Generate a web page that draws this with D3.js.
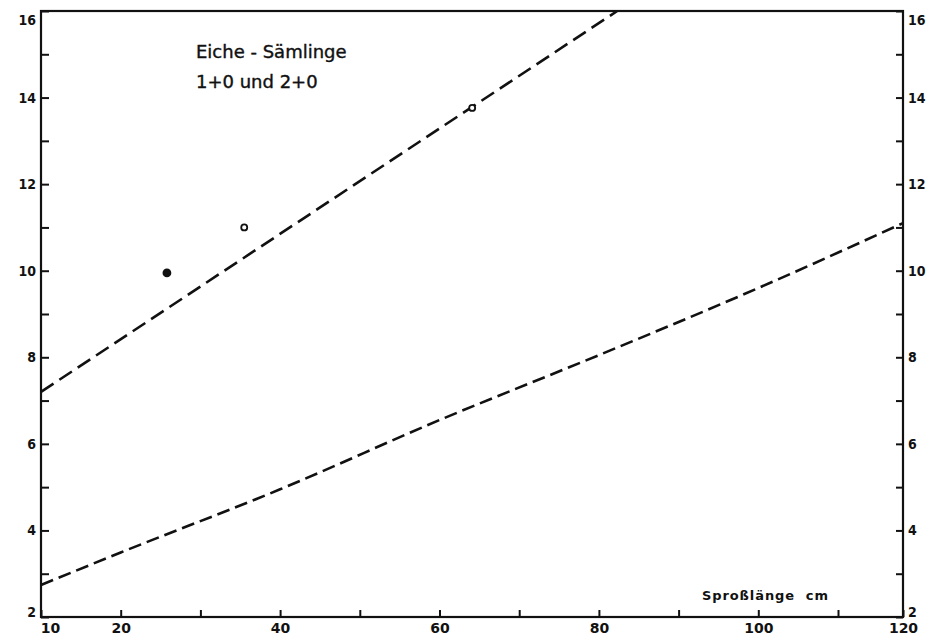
<!DOCTYPE html>
<html>
<head>
<meta charset="utf-8">
<script src="https://cdn.jsdelivr.net/npm/d3@7/dist/d3.min.js"></script>
<style>
  body { margin: 0; background: #fff; }
  svg { display: block; }
  .tick text { font-family: "DejaVu Sans Condensed", "DejaVu Sans", sans-serif; font-weight: bold; font-size: 14px; fill: #111; }
  .xaxis .tick text { font-family: "DejaVu Sans", sans-serif; font-size: 14px; }
</style>
</head>
<body>
<svg id="chart" width="927" height="635"></svg>
<script>
// Sprosslänge (cm) on x, values on y
const xTickValues = [10, 20, 30, 40, 50, 60, 70, 80, 90, 100, 110, 120];
const xTickLabels = ["10", "20", "", "40", "", "60", "", "80", "", "100", "", "120"];
const yTickValues = [2, 3, 4, 5, 6, 7, 8, 9, 10, 11, 12, 13, 14, 15, 16];
const yTickLabels = ["2", "", "4", "", "6", "", "8", "", "10", "", "12", "", "14", "", "16"];

// measured seedlings
const pointX = [25.8, 35.5, 64.1];
const pointY = [9.95, 11.0, 13.76];
const pointFilled = [true, false, false];

// upper dashed curve
const upperX = [10, 82.3];
const upperY = [7.2, 16];

// lower dashed curve
const lowerX = [10, 20, 40, 60, 80, 100, 120];
const lowerY = [2.74, 3.49, 4.95, 6.55, 8.05, 9.6, 11.1];

const titleLines = ["Eiche - Sämlinge", "1+0 und 2+0"];
const xAxisTitle = "Sproßlänge  cm";

const svg = d3.select("#chart");
const frameLeft = 41, frameRight = 903, frameTop = 11, frameBottom = 617;

// hand-drawn scale: last interval is shorter on the sheet
const x = d3.scaleLinear().domain([10, 110, 120]).range([frameLeft, 838, frameRight]);
const y = d3.scaleLinear().domain([2, 16]).range([frameBottom, frameTop]);

// frame
svg.append("rect")
  .attr("x", frameLeft).attr("y", frameTop)
  .attr("width", frameRight - frameLeft).attr("height", frameBottom - frameTop)
  .attr("fill", "none").attr("stroke", "#111").attr("stroke-width", 2.2);

// left axis (ticks point inward)
const gL = svg.append("g").attr("transform", `translate(${frameLeft},0)`)
  .call(d3.axisLeft(y).tickValues(yTickValues)
    .tickFormat((d, i) => yTickLabels[i]).tickSizeInner(-8).tickSizeOuter(0).tickPadding(5));
// right axis
const gR = svg.append("g").attr("transform", `translate(${frameRight},0)`)
  .call(d3.axisRight(y).tickValues(yTickValues)
    .tickFormat((d, i) => yTickLabels[i]).tickSizeInner(-7).tickSizeOuter(0).tickPadding(5));
// bottom axis
const gB = svg.append("g").attr("class", "xaxis").attr("transform", `translate(0,${frameBottom})`)
  .call(d3.axisBottom(x).tickValues(xTickValues)
    .tickFormat((d, i) => xTickLabels[i]).tickSizeInner(-7).tickSizeOuter(0).tickPadding(6));

[gL, gR, gB].forEach(g => {
  g.select(".domain").remove();
  g.selectAll(".tick line").attr("stroke", "#111").attr("stroke-width", 2);
});
// corner labels nudged away from the frame corners
[gL, gR].forEach(g => {
  g.selectAll(".tick text").filter(d => d === 16).attr("dy", "0.95em");
  g.selectAll(".tick text").filter(d => d === 2).attr("dy", "-0.05em");
});
gB.selectAll(".tick text").filter(d => d === 10).attr("dx", "0.65em");

// dashed curves
const line = d3.line().x(d => x(d[0])).y(d => y(d[1])).curve(d3.curveMonotoneX);
svg.append("path")
  .datum(upperX.map((v, i) => [v, upperY[i]]))
  .attr("d", line).attr("fill", "none").attr("stroke", "#111")
  .attr("stroke-width", 2.6).attr("stroke-dasharray", "15,7");
svg.append("path")
  .datum(lowerX.map((v, i) => [v, lowerY[i]]))
  .attr("d", line).attr("fill", "none").attr("stroke", "#111")
  .attr("stroke-width", 2.6).attr("stroke-dasharray", "13,6");

// points
svg.append("g").selectAll("circle")
  .data(pointX.map((v, i) => ({ x: v, y: pointY[i], filled: pointFilled[i] })))
  .join("circle")
  .attr("cx", d => x(d.x)).attr("cy", d => y(d.y))
  .attr("r", d => d.filled ? 3.5 : 3)
  .attr("fill", d => d.filled ? "#111" : "#fff")
  .attr("stroke", "#111").attr("stroke-width", 1.8);

// title
svg.append("g").selectAll("text")
  .data(titleLines)
  .join("text")
  .attr("x", 196).attr("y", (d, i) => 58 + i * 30)
  .attr("font-family", "DejaVu Sans, sans-serif")
  .attr("font-size", 18).attr("fill", "#111")
  .attr("stroke", "#111").attr("stroke-width", 0.4)
  .text(d => d);

// axis title
svg.append("text")
  .attr("x", 702).attr("y", 600)
  .attr("font-family", "DejaVu Sans, sans-serif")
  .attr("font-weight", "bold").attr("font-size", 13).attr("fill", "#111")
  .attr("xml:space", "preserve")
  .attr("textLength", 126).attr("lengthAdjust", "spacing")
  .text(xAxisTitle);
</script>
</body>
</html>
